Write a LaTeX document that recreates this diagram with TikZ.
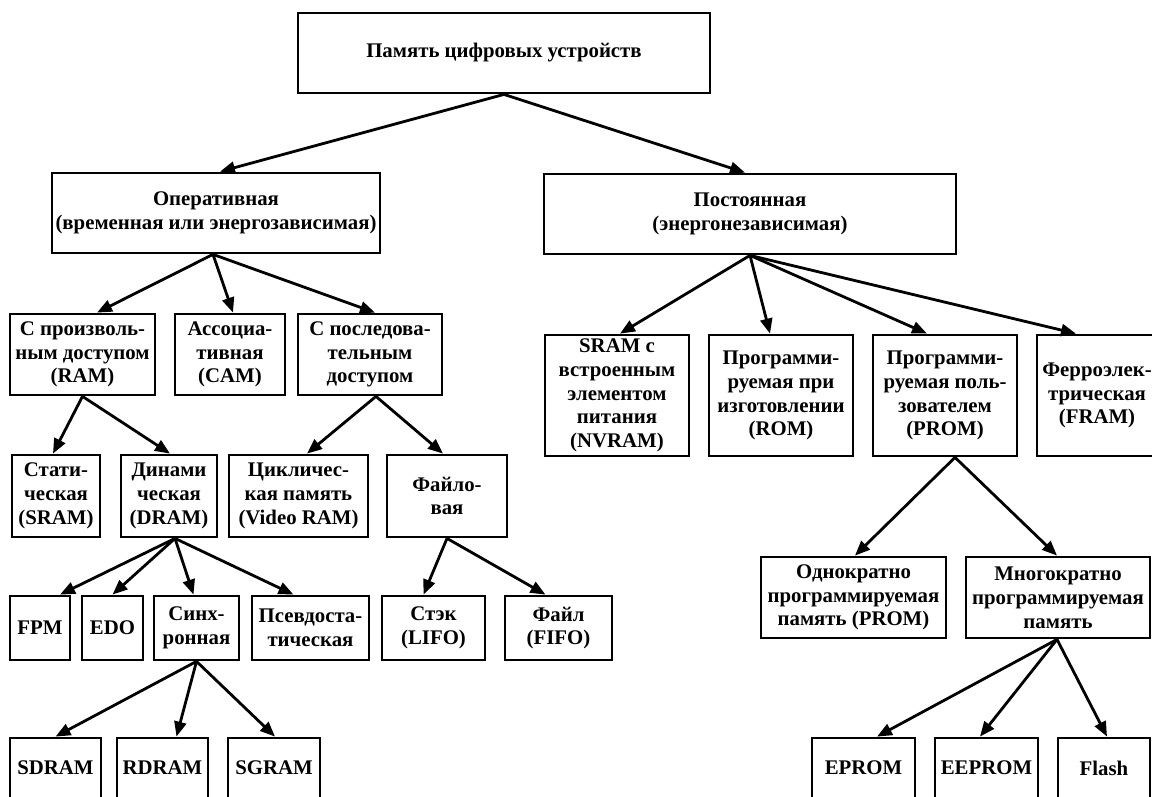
\documentclass[tikz,border=0pt]{standalone}
\usepackage{fontspec}
\setmainfont{Liberation Serif}
\usetikzlibrary{arrows.meta,calc}
\begin{document}
\begin{tikzpicture}[x=1pt,y=-1pt,
  box/.style={draw, line width=2.8pt, align=center, inner sep=0pt,
    font=\bfseries\fontsize{20.8}{23.8}\selectfont},
  link/.style={line width=2.8pt, -{Triangle[length=15pt,width=12pt]}}]
\useasboundingbox (0,0) rectangle (1152,796);
\clip (0,0) rectangle (1152,796);

% level 0
\node[box, minimum width=412pt, minimum height=80pt] (top) at (504,53) {Память цифровых устройств};

% level 1
\node[box, minimum width=328pt, minimum height=80pt] (oper) at (216,213) {Оперативная\\(временная или энергозависимая)};
\node[box, minimum width=412pt, minimum height=80pt] (post) at (750,214) {Постоянная\\(энергонезависимая)};

% level 2, volatile branch
\node[box, minimum width=145pt, minimum height=81pt] (ram) at (82.5,354.5) {С произволь-\\ным доступом\\(RAM)};
\node[box, minimum width=110pt, minimum height=81pt] (cam) at (230,354.5) {Ассоциа-\\тивная\\(CAM)};
\node[box, minimum width=144pt, minimum height=81pt] (seq) at (370,354.5) {С последова-\\тельным\\доступом};

% level 2, non-volatile branch
\node[box, minimum width=144pt, minimum height=121pt] (nvram) at (617,395.5) {SRAM с\\встроенным\\элементом\\питания\\(NVRAM)};
\node[box, minimum width=144pt, minimum height=121pt] (rom) at (781,395.5) {Программи-\\руемая при\\изготовлении\\(ROM)};
\node[box, minimum width=144pt, minimum height=121pt] (prom) at (945,395.5) {Программи-\\руемая поль-\\зователем\\(PROM)};
\node[box, minimum width=120pt, minimum height=121pt] (fram) at (1097,395.5) {Ферроэлек-\\трическая\\(FRAM)};

% level 3
\node[box, minimum width=88pt, minimum height=82pt] (sram) at (56,496) {Стати-\\ческая\\(SRAM)};
\node[box, minimum width=96pt, minimum height=82pt] (dram) at (169,496) {Динами\\ческая\\(DRAM)};
\node[box, minimum width=139pt, minimum height=82pt] (vram) at (298.5,496) {Цикличес-\\кая память\\(Video RAM)};
\node[box, minimum width=120pt, minimum height=82pt] (file) at (447,496) {Файло-\\вая};

% level 4
\node[box, minimum width=60pt, minimum height=64pt] (fpm) at (40,628) {FPM};
\node[box, minimum width=61pt, minimum height=64pt] (edo) at (112.5,628) {EDO};
\node[box, minimum width=85pt, minimum height=64pt] (sync) at (196.5,628) {Синх-\\ронная};
\node[box, minimum width=117pt, minimum height=64pt] (pseudo) at (310.5,628) {Псевдоста-\\тическая};
\node[box, minimum width=103pt, minimum height=64pt] (lifo) at (433.5,628) {Стэк\\(LIFO)};
\node[box, minimum width=107pt, minimum height=64pt] (fifo) at (558.5,628) {Файл\\(FIFO)};
\node[box, minimum width=185pt, minimum height=81pt] (once) at (853.5,597.5) {Однократно\\программируемая\\память (PROM)};
\node[box, minimum width=184pt, minimum height=81pt] (multi) at (1058,597.5) {Многократно\\программируемая\\память};

% level 5
\node[box, minimum width=91pt, minimum height=60pt] (sdram) at (55.5,768) {SDRAM};
\node[box, minimum width=91pt, minimum height=60pt] (rdram) at (162.5,768) {RDRAM};
\node[box, minimum width=92pt, minimum height=60pt] (sgram) at (274,768) {SGRAM};
\node[box, minimum width=103pt, minimum height=60pt] (eprom) at (863.5,768) {EPROM};
\node[box, minimum width=103pt, minimum height=60pt] (eeprom) at (986.5,768) {EEPROM};
\node[box, minimum width=92pt, minimum height=60pt] (flash) at (1104,768) {Flash};

% connectors
\draw[link] (top.south) -- ($(oper.north)+(4,0)$);
\draw[link] (top.south) -- ($(post.north)+(-5,0)$);

\draw[link] ($(oper.south)+(-3,0)$) -- ($(ram.north)+(14.5,0)$);
\draw[link] ($(oper.south)+(-3,0)$) -- ($(cam.north)+(3,0)$);
\draw[link] ($(oper.south)+(-3,0)$) -- ($(seq.north)+(5,0)$);

\draw[link] (ram.south) -- ($(sram.north)+(-3,0)$);
\draw[link] (ram.south) -- ($(dram.north)+(1,0)$);
\draw[link] ($(seq.south)+(6,0)$) -- ($(vram.north)+(8.5,0)$);
\draw[link] ($(seq.south)+(6,0)$) -- ($(file.north)+(-4,0)$);

\draw[link] ($(dram.south)+(6,0)$) -- ($(fpm.north)+(20,0)$);
\draw[link] ($(dram.south)+(6,0)$) -- (edo.north);
\draw[link] ($(dram.south)+(6,0)$) -- ($(sync.north)+(-3,0)$);
\draw[link] ($(dram.south)+(6,0)$) -- ($(pseudo.north)+(-17,0)$);

\draw[link] (file.south) -- ($(lifo.north)+(-10,0)$);
\draw[link] (file.south) -- ($(fifo.north)+(-13,0)$);

\draw[link] (sync.south) -- (sdram.north);
\draw[link] (sync.south) -- ($(rdram.north)+(14,0)$);
\draw[link] (sync.south) -- ($(sgram.north)+(1,0)$);

\draw[link] (post.south) -- ($(nvram.north)+(3,0)$);
\draw[link] (post.south) -- ($(rom.north)+(-11,0)$);
\draw[link] (post.south) -- ($(prom.north)+(-18,0)$);
\draw[link] (post.south) -- ($(fram.north)+(-21,0)$);

\draw[link] ($(prom.south)+(10,0)$) -- ($(once.north)+(1.5,0)$);
\draw[link] ($(prom.south)+(10,0)$) -- ($(multi.north)+(-1,0)$);

\draw[link] ($(multi.south)+(-1,0)$) -- ($(eprom.north)+(13.5,0)$);
\draw[link] ($(multi.south)+(-1,0)$) -- ($(eeprom.north)+(-6.5,0)$);
\draw[link] ($(multi.south)+(-1,0)$) -- ($(flash.north)+(3,0)$);
\end{tikzpicture}
\end{document}
